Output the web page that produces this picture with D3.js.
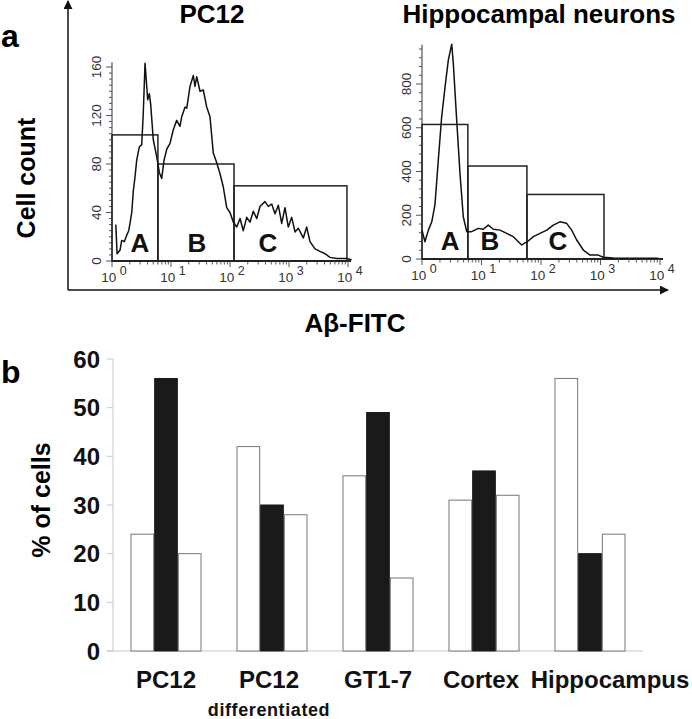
<!DOCTYPE html>
<html><head><meta charset="utf-8">
<script src="https://cdn.jsdelivr.net/npm/d3@7"></script>
<style>
html,body{margin:0;padding:0;background:#fff;}
svg{display:block;font-family:"Liberation Sans",Arial,Helvetica,sans-serif;}
</style></head><body>
<svg id="chart" width="692" height="719"></svg>
<script>
// ---------- DATA ----------
// Panel a, PC12 histogram (Aβ-FITC intensity, cell count)
const pc12Intensity = [1.16,1.22,1.37,1.46,1.62,1.77,1.92,2.02,2.16,2.30,2.45,2.62,2.90,3.19,3.39,3.63,4.03,4.29,4.53,5.01,5.72,6.34,6.96,7.61,8.45,9.62,10.9,12.5,14.2,15.2,17.3,18.5,21.0,23.9,25.5,27.3,31.0,35.3,40.3,45.8,52.1,59.6,67.7,77.0,87.9,100,114,130,148,168,192,218,248,284,322,392,446,509,579,659,752,855,973,1112,1265,1438,1748,1995,2270,2760,3350,4075,4955,6430,9500,11500];
const pc12Count = [30,6,9,17,16,21,25,31,40,58,69,83,94,96,122,163,133,138,129,100,86,73,68,83,92,97,108,116,111,119,127,126,144,153,144,152,140,141,127,119,89,81,72,61,44,40,32,28,35,25,36,32,41,35,45,49,45,47,39,46,31,44,28,36,24,27,19,28,16,10,8,6,3,2,2,1];
// Panel a, hippocampal neurons histogram
const hipIntensity = [1.0,1.12,1.28,1.46,1.65,1.88,2.14,2.44,2.77,3.16,3.36,3.83,4.35,4.94,5.64,6.84,8.83,10.7,13.0,15.8,20.5,26.5,34.2,47.4,53.8,58.9,74.3,96.2,125,161,208,270,328,398,514,667,918,1114,1641,4613,9360];
const hipCount = [132,79,132,170,247,452,650,787,909,982,893,635,391,193,125,125,140,136,155,136,132,117,102,64,74,79,102,117,132,155,170,163,132,87,41,18,18,8,5,4,3];
// Gates
const gateNames = ["A","B","C"];
const pc12GateEdges = [1, 6, 117, 9600];
const pc12GateHeights = [104, 80, 62];
const pc12GateLabelAt = [2.98, 27.6, 440];
const hipGateEdges = [1, 5.9, 58, 1145];
const hipGateHeights = [615, 425, 295];
const hipGateLabelAt = [2.96, 13.9, 193];
const pc12CountTicks = [0,40,80,120,160];
const hipCountTicks = [0,200,400,600,800];
const decadeTicks = [1,10,100,1000,10000];

// Panel b
const cellTypes = ["PC12","PC12","GT1-7","Cortex","Hippocampus"];
const cellSubLabels = ["","differentiated","","",""];
const gateA = [24,42,36,31,56];
const gateB = [56,30,49,37,20];
const gateC = [20,28,15,32,24];
const percentTicks = [0,10,20,30,40,50,60];

// ---------- DRAW ----------
const svg = d3.select("#chart");
const bold = "bold";

// Panel letters
svg.append("text").attr("x",1).attr("y",47).attr("font-size",32).attr("font-weight",bold).text("a");
svg.append("text").attr("x",1).attr("y",383).attr("font-size",32).attr("font-weight",bold).text("b");

// Outer arrows of panel a
const defs = svg.append("defs");
defs.append("marker").attr("id","arr").attr("viewBox","0 0 10 10").attr("refX",9).attr("refY",5)
  .attr("markerWidth",9).attr("markerHeight",9).attr("markerUnits","userSpaceOnUse").attr("orient","auto")
  .append("path").attr("d","M0,0L10,5L0,10Z").attr("fill","#111");
svg.append("line").attr("x1",68).attr("y1",290).attr("x2",68).attr("y2",1)
  .attr("stroke","#111").attr("stroke-width",1.5).attr("marker-end","url(#arr)");
svg.append("line").attr("x1",68).attr("y1",290).attr("x2",668).attr("y2",290)
  .attr("stroke","#111").attr("stroke-width",1.5).attr("marker-end","url(#arr)");

svg.append("text").attr("transform","translate(35,178) rotate(-90)").attr("text-anchor","middle")
  .attr("font-size",25).attr("font-weight",bold).text("Cell count");
svg.append("text").attr("x",355).attr("y",332).attr("text-anchor","middle")
  .attr("font-size",26).attr("font-weight",bold).text("Aβ-FITC");

function histogram(opt){
  const x = d3.scaleLog().domain([1,10000]).range([opt.x0, opt.x1]);
  const y = d3.scaleLinear().domain([0, opt.yMax]).range([opt.y0, opt.yTop]);
  const g = svg.append("g");
  // title
  g.append("text").attr("x",opt.titleX).attr("y",23).attr("text-anchor","middle")
    .attr("font-size",26).attr("font-weight",bold).text(opt.title);
  // y axis
  g.append("line").attr("x1",opt.x0).attr("x2",opt.x0).attr("y1",opt.y0).attr("y2",y(opt.yLineTop))
    .attr("stroke","#333").attr("stroke-width",1);
  d3.range(0, opt.yMinorMax + 0.001, opt.yMinor).forEach(v=>{
    const major = opt.yTicks.includes(v);
    g.append("line").attr("x1",opt.x0-(major?6:3)).attr("x2",opt.x0).attr("y1",y(v)).attr("y2",y(v))
      .attr("stroke","#555").attr("stroke-width",1);
  });
  opt.yTicks.forEach(v=>{
    g.append("text").attr("transform",`translate(${opt.x0-11},${y(v)}) rotate(-90)`)
      .attr("text-anchor","middle").attr("font-size",13.5).attr("fill","#333").text(v);
  });
  // x axis
  g.append("line").attr("x1",opt.x0).attr("x2",opt.x1+3).attr("y1",opt.y0).attr("y2",opt.y0)
    .attr("stroke","#222").attr("stroke-width",2);
  x.ticks().forEach(v=>{
    const major = decadeTicks.includes(v);
    g.append("line").attr("x1",x(v)).attr("x2",x(v)).attr("y1",opt.y0).attr("y2",opt.y0+(major?6:3.5))
      .attr("stroke","#555").attr("stroke-width",1);
  });
  decadeTicks.forEach(v=>{
    const t = g.append("text").attr("x",x(v)+2).attr("y",opt.y0+21).attr("text-anchor","middle")
      .attr("font-size",13.5).attr("fill","#333");
    t.append("tspan").text("10");
    t.append("tspan").attr("dy",-7).attr("font-size",12.5).text(" " + Math.round(Math.log10(v)));
  });
  // gates
  opt.gateHeights.forEach((h,i)=>{
    const xa = x(opt.gateEdges[i]), xb = x(opt.gateEdges[i+1]);
    g.append("rect").attr("x",xa).attr("y",y(h)).attr("width",xb-xa).attr("height",opt.y0-y(h))
      .attr("fill","none").attr("stroke","#222").attr("stroke-width",1.5);
    g.append("text").attr("x",x(opt.gateLabelAt[i])).attr("y",opt.y0-9).attr("text-anchor","middle")
      .attr("font-size",26).attr("font-weight",bold).attr("fill","#111").text(gateNames[i]);
  });
  // curve
  const pts = opt.intensity.map((v,i)=>[v, opt.count[i]]);
  g.append("path").datum(pts)
    .attr("d", d3.line().x(d=>x(d[0])).y(d=>y(d[1])))
    .attr("fill","none").attr("stroke","#111").attr("stroke-width",1.5).attr("stroke-linejoin","round");
}

histogram({x0:112, x1:348, y0:261, yTop:67, yMax:160, yLineTop:164, yMinor:5, yMinorMax:160,
  yTicks:pc12CountTicks, title:"PC12", titleX:212,
  gateEdges:pc12GateEdges, gateHeights:pc12GateHeights, gateLabelAt:pc12GateLabelAt,
  intensity:pc12Intensity, count:pc12Count});
histogram({x0:422, x1:660, y0:259, yTop:84, yMax:800, yLineTop:980, yMinor:40, yMinorMax:960,
  yTicks:hipCountTicks, title:"Hippocampal neurons", titleX:539,
  gateEdges:hipGateEdges, gateHeights:hipGateHeights, gateLabelAt:hipGateLabelAt,
  intensity:hipIntensity, count:hipCount});

// ---------- Panel b ----------
const yb = d3.scaleLinear().domain([0,60]).range([651,359]);
const x0 = d3.scaleBand().domain(d3.range(cellTypes.length)).range([113,643]).paddingInner(0.33).paddingOuter(0.165);
const x1 = d3.scaleBand().domain(gateNames).range([0, x0.bandwidth()]);
const series = {A:gateA, B:gateB, C:gateC};
const fills = {A:"#fff", B:"#1a1a1a", C:"#fff"};
const strokes = {A:"#777", B:"#1a1a1a", C:"#777"};

const gb = svg.append("g");
gb.append("line").attr("x1",113).attr("x2",113).attr("y1",yb(60)).attr("y2",yb(0)).attr("stroke","#c8c8c8");
gb.append("line").attr("x1",107).attr("x2",643).attr("y1",yb(0)).attr("y2",yb(0)).attr("stroke","#c8c8c8");
percentTicks.forEach(v=>{
  gb.append("line").attr("x1",107).attr("x2",113).attr("y1",yb(v)).attr("y2",yb(v)).attr("stroke","#c8c8c8");
  gb.append("text").attr("x",100).attr("y",yb(v)).attr("dy","0.36em").attr("text-anchor","end")
    .attr("font-size",24).attr("font-weight",bold).attr("fill","#111").text(v);
});
cellTypes.forEach((c,i)=>{
  gateNames.forEach(k=>{
    const v = series[k][i];
    gb.append("rect").attr("x",x0(i)+x1(k)+0.5).attr("y",yb(v)).attr("width",x1.bandwidth()-1)
      .attr("height",yb(0)-yb(v)).attr("fill",fills[k]).attr("stroke",strokes[k]).attr("stroke-width",1);
  });
});
// category labels (last one shifted right to avoid overlap, as in original)
const labelShift = [0,-3,0,-3,20];
cellTypes.forEach((c,i)=>{
  const cx = x0(i) + x0.bandwidth()/2 + labelShift[i];
  gb.append("text").attr("x",cx).attr("y",688).attr("text-anchor","middle")
    .attr("font-size",24).attr("font-weight",bold).attr("fill","#111").text(c);
  if (cellSubLabels[i]) gb.append("text").attr("x",cx).attr("y",716).attr("text-anchor","middle")
    .attr("font-size",18).attr("font-weight",bold).attr("letter-spacing",0.6).attr("fill","#111").text(cellSubLabels[i]);
});
svg.append("text").attr("transform","translate(50,500) rotate(-90)").attr("text-anchor","middle")
  .attr("font-size",25).attr("font-weight",bold).text("% of cells");
</script></body></html>
